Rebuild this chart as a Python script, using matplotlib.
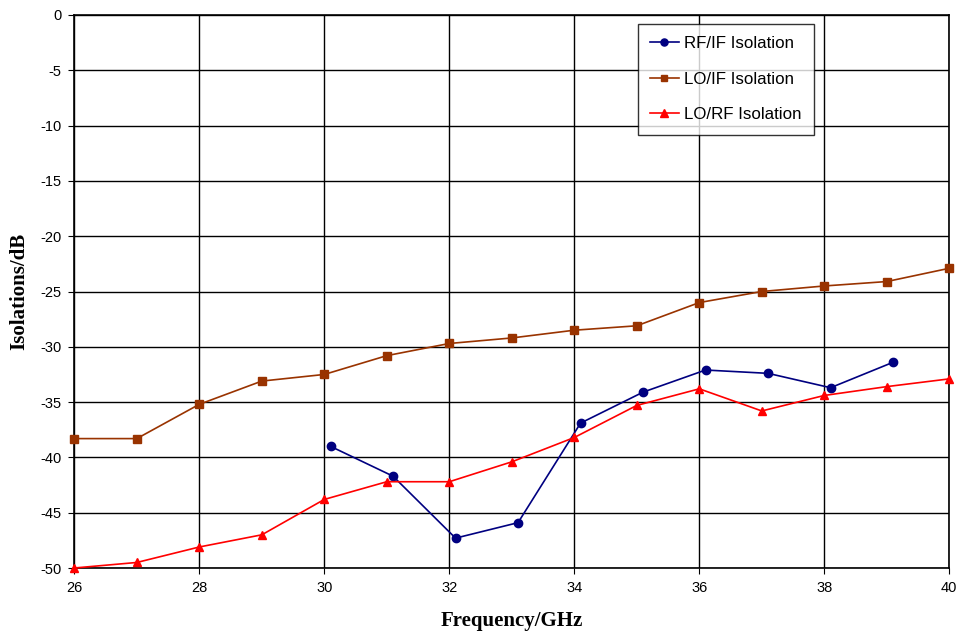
import numpy as np
import matplotlib.pyplot as plt

# dane
freq_rf_if = [30.1, 31.1, 32.1, 33.1, 34.1, 35.1, 36.1, 37.1, 38.1, 39.1]
rf_if = [-39.0, -41.7, -47.3, -45.9, -36.9, -34.1, -32.1, -32.4, -33.7, -31.4]

freq = [26, 27, 28, 29, 30, 31, 32, 33, 34, 35, 36, 37, 38, 39, 40]
lo_if = [-38.3, -38.3, -35.2, -33.1, -32.5, -30.8, -29.7, -29.2, -28.5, -28.1,
         -26.0, -25.0, -24.5, -24.1, -22.9]
lo_rf = [-50.0, -49.5, -48.1, -47.0, -43.8, -42.2, -42.2, -40.4, -38.2, -35.3,
         -33.8, -35.8, -34.4, -33.6, -32.9]

plt.rcParams['font.family'] = ['Liberation Sans', 'DejaVu Sans']
plt.rcParams['axes.unicode_minus'] = False

fig = plt.figure(figsize=(9.58, 6.33), dpi=100)
ax = fig.add_axes([74.3 / 958, 1 - 568 / 633, 875 / 958, 553 / 633])

ax.plot(freq_rf_if, rf_if, color='#000080', marker='o', markersize=6,
        linewidth=1.2, label='RF/IF Isolation', clip_on=False, zorder=3)
ax.plot(freq, lo_if, color='#993300', marker='s', markersize=5.5,
        linewidth=1.2, label='LO/IF Isolation', clip_on=False, zorder=3)
ax.plot(freq, lo_rf, color='#FF0000', marker='^', markersize=6,
        linewidth=1.2, label='LO/RF Isolation', clip_on=False, zorder=3)

ax.set_xlim(26, 40)
ax.set_ylim(-50, 0)
ax.set_xticks(np.arange(26, 41, 2))
ax.set_yticks(np.arange(-50, 1, 5))
ax.grid(True, color='black', linewidth=1)
ax.set_axisbelow(True)
for s in ax.spines.values():
    s.set_linewidth(1.2)
ax.tick_params(direction='out', length=4, labelsize=10.5, pad=5)

ax.set_xlabel('Frequency/GHz', family='Liberation Serif', fontweight='bold',
              fontsize=15, labelpad=12)
ax.set_ylabel('Isolations/dB', family='Liberation Serif', fontweight='bold',
              fontsize=15, labelpad=8)

leg = ax.legend(loc='upper left', bbox_to_anchor=(0.644, 0.984), fontsize=12.2,
                frameon=True, fancybox=False, edgecolor='black',
                borderpad=0.72, labelspacing=1.22, handlelength=1.7,
                handletextpad=0.3, markerscale=0.85, borderaxespad=0,
                handleheight=0.7)
leg.get_frame().set_linewidth(1)

fig.savefig('out.png', dpi=100)
